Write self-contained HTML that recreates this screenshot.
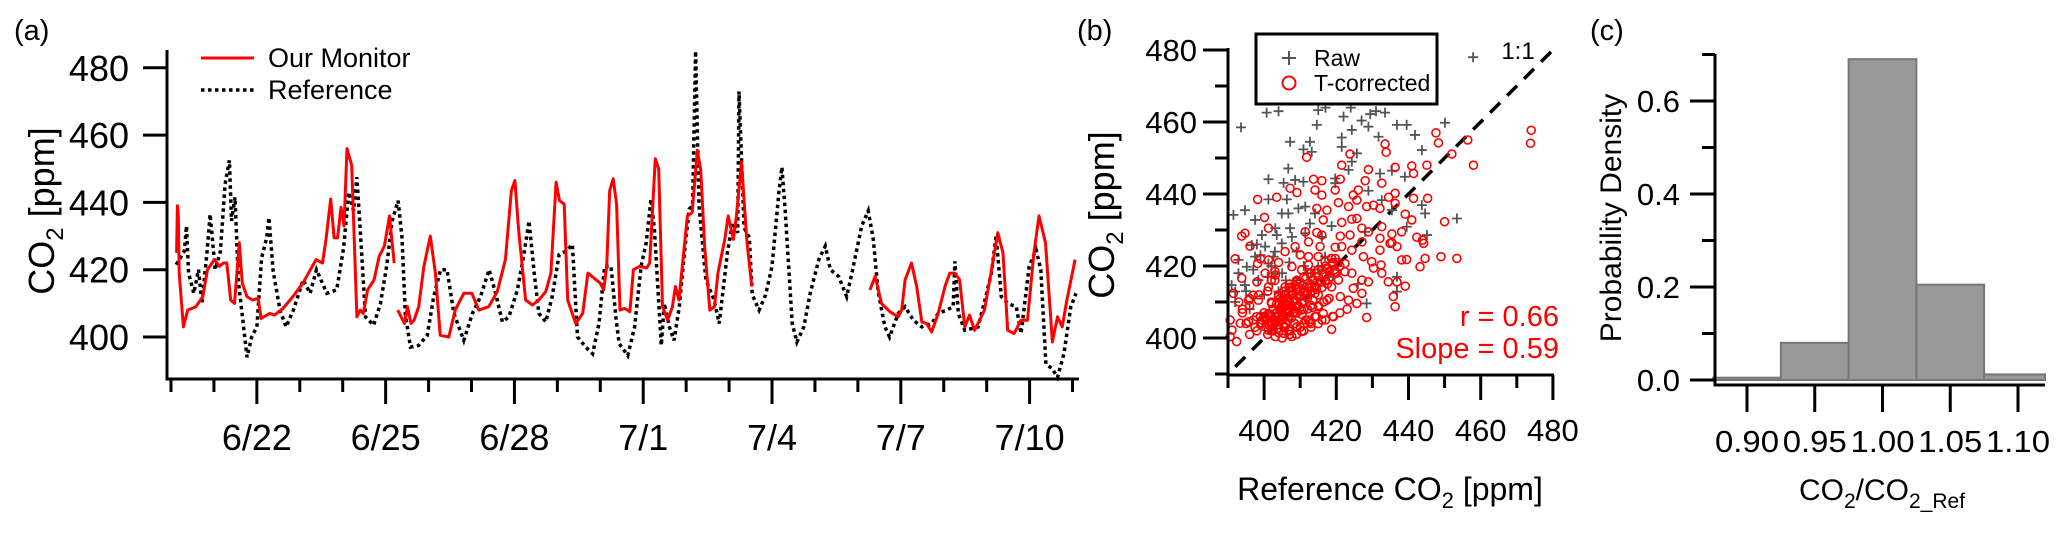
<!DOCTYPE html>
<html><head><meta charset="utf-8"><style>
html,body{margin:0;padding:0;background:#fff;}
svg{display:block;font-family:"Liberation Sans",Arial,sans-serif;}
</style></head><body>
<svg id="fig" width="2067" height="533" viewBox="0 0 2067 533" xmlns="http://www.w3.org/2000/svg">
<g id="pa"></g>
<g id="pb"></g>
<g id="pc"></g>
</svg>
<script>
// ---------- Panel (a) data ----------
const dayLabels = ["6/22","6/25","6/28","7/1","7/4","7/7","7/10"];
const dayLabelPos = [2,5,8,11,14,17,20];
const aYTicks = [400,420,440,460,480];
const ourDay = [0.13,0.15,0.17,0.19,0.29,0.39,0.58,0.74,0.85,1.01,1.13,1.22,1.3,1.39,1.48,1.59,1.66,1.77,1.9,2.03,2.1,2.3,2.41,2.61,2.84,3.07,3.38,3.53,3.61,3.72,3.8,3.88,3.96,4.03,4.1,4.21,4.33,4.41,4.48,4.58,4.73,4.85,4.97,5.09,5.2,null,5.28,5.44,5.51,5.59,5.66,5.77,5.89,6.04,6.16,6.27,6.47,6.62,6.82,7.01,7.17,7.4,7.6,7.79,7.93,8.01,8.1,8.26,8.42,8.57,8.73,8.85,8.97,9.05,9.16,9.24,9.32,9.43,9.59,9.71,10.0,10.08,10.15,10.22,10.3,10.38,10.46,10.57,10.69,10.77,10.92,11.08,11.15,11.28,11.36,11.45,11.57,11.68,11.75,11.83,11.91,12.03,12.14,12.26,12.34,12.43,12.55,12.66,12.74,12.9,12.98,13.1,13.17,13.29,13.41,13.53,null,16.28,16.4,16.55,16.75,16.94,17.02,17.1,17.25,17.37,17.49,17.6,17.72,17.87,18.03,18.14,18.26,18.37,18.49,18.6,18.72,18.95,19.14,19.26,19.38,19.49,19.64,19.8,19.95,20.1,20.22,20.37,20.53,20.65,20.76,20.87,21.06];
const ourVal = [425,439,436,419,403,408,409,412,420,423,421,422,422,411,410,428,416,412,411,411.5,405.5,407,406.5,408.5,412,416,423,422,429,441,429.5,429.5,438.5,433,456,451,406,408,407,414,417,424,427,436,422,null,408,404,409,404,405,409,421,430,419,400.5,400,408,413,413,408,409,413.5,423,443.5,446.5,431.5,411,409.5,411,413.5,419,446,440.5,439.5,411,408,404,407,419,416,414,421,443.5,447,439.5,408,408.5,407.5,420,421,420.5,422,453,450,409,405,409,415,411,421,436,437,455.5,449.5,427,408,409,419,429,436,429,436,452,429,415,null,414,418,410,407.5,406,408,417,422,415,404.5,404,401.5,407,415,419,419,417,403,406.5,402,408,422,431,425,402,401,405,405,425,436,428,398.5,406,403,411,423];
const refDay = [0.12,0.31,0.36,0.41,0.53,0.64,0.72,0.84,0.91,1.03,1.15,1.26,1.36,1.41,1.49,1.57,1.69,1.77,1.88,2.0,2.11,2.23,2.28,2.38,2.54,2.68,2.85,3.08,3.24,3.39,3.63,3.86,4.02,4.14,4.25,4.33,4.41,4.53,4.72,4.88,5.03,5.15,5.29,5.38,5.46,5.58,5.77,5.97,6.12,6.28,6.43,6.59,6.82,7.02,7.21,7.41,7.56,7.72,7.87,8.07,8.22,8.34,8.46,8.57,8.73,8.88,9.04,9.2,9.35,9.47,9.66,9.82,9.97,10.1,10.25,10.37,10.44,10.64,10.8,10.95,11.07,11.18,11.26,11.42,11.49,11.61,11.72,11.84,11.96,12.07,12.15,12.22,12.3,12.46,12.65,12.77,12.96,13.08,13.2,13.23,13.35,13.47,13.54,13.7,13.85,14.0,14.16,14.23,14.31,14.47,14.58,14.74,14.89,15.09,15.24,15.36,15.55,15.74,15.86,16.09,16.24,16.36,16.47,16.63,16.74,16.94,17.1,17.29,17.49,17.72,17.87,18.07,18.22,18.26,18.34,18.49,18.8,18.99,19.11,19.22,19.34,19.49,19.69,19.8,19.99,20.15,20.26,20.38,20.53,20.65,20.8,20.96,21.08];
const refVal = [421.5,425.5,433,419,413,420,410,425.5,436.5,420,425.5,445.5,452.5,434.5,441.5,416.5,403,394,400,403,423.5,429.5,435.5,419.5,408,403,408,417,413,420,413,414,426.5,443,437.5,447.5,431.5,406,403.5,410,421.5,434.5,440.5,429.5,406.5,397,397.5,400.5,412,420,420,407,399,407,412,420,413,404.5,406,414,424.5,434.5,419,407,404.5,412,424.5,425.5,427.5,400,397,395,404,421,421,405,398,394.5,403,421,428,441,432,397.5,410,403,399,409,425,438,439,485,439,417,411,404,425,434,431,473,432.5,429.5,412.5,408,412.5,421,443,450.5,437,404,398.5,403,413,423,427,420,418,412,419,433,437.5,429,413.5,403,400,407,409,405,403,404,407,408,409,422.5,407,402,403,412.5,419,430,412,410,409,401,421,426,420,392,390.5,388,395,409,413];

// ---------- Panel (b) data ----------
const bTicks = [400,420,440,460,480];
const rawX = [400.7,393.6,415,422,427,429.4,433.5,414.6,424.3,428.9,436.8,439.5,450.1,407.2,412.7,421.5,421.5,431.7,441.8,410.9,413.2,425.7,443.7,406.7,424.3,408.6,401.2,405.4,419.7,423.4,432.1,435.4,439,410.9,401.2,406.3,409.5,411.4,406.7,414.1,428.9,432.6,435.4,443.7,444.6,453.4,391.5,394.7,397.5,403.1,407.2,412.7,418.7,399.4,403.5,407.7,411.4,428,439.5,445.1,396.6,400.3,404.9,416,392.9,397.5,402.6,395.2,401.2,403.1,392.9,391,394.7,398.4,404,392,436.8,436.8,428.4,415,416.9,419.7,404.9,457.9,404,417,424,431,402,409,398,406,413,420,426,392,396,412,399,403,407,411,415,419,397,401,405,409,413,395,400,406,410];
const rawY = [462.6,458.5,463.3,461.5,460.4,462.2,462.6,459.2,457.8,458.7,459.2,459.2,459.8,454.5,454.5,455.7,453.1,455.9,456.4,452.4,451.7,451.3,452.2,447.1,449,443.9,444.1,443.1,444.3,446.7,445.7,446.5,444.8,443.4,438.5,438.5,436,436.5,434.6,434.6,440.9,438.3,435.5,436.9,434.6,433.2,434.2,435.5,432.8,430.5,430.5,431.8,431.1,428.6,428.6,428.1,429.1,429.5,430.9,428.6,425.8,425.4,426.3,428.1,421.7,422.6,422.6,419.8,420.7,418,418,414.7,414.7,416.1,412.9,412.9,417,412.9,409.6,419.8,422.6,443,434.6,478,463,464,464,463,420,424,426,416,418,420,415,410,408,412,423,424,421,420,419,417,419,417,418,416,415,413,412,414,411];
const corX = [411.8,423.8,433.5,433.8,447.6,448.3,456.4,452,458,474,473.8,421.5,428.9,436.3,440.9,445.1,441.4,413.7,416,421.1,428,432.6,407.2,414.1,409.1,419.7,426.1,416,424.7,425.7,398.2,403.5,436.3,434.5,441.4,445.3,414.6,417.4,420.6,423.4,428.4,430.3,432.1,436.3,439.1,400.1,401.2,416.4,421.5,424.3,425.7,427.1,428.9,432.6,435.4,438.1,440.9,450,393.8,394.7,396.1,411.4,412.3,414.6,416,421.1,423.8,427.1,432.1,435.4,442.3,443.9,444.2,405.8,408.6,410,415.5,419.7,421.5,424.3,427.5,429.8,432.1,432.4,434.9,436.8,438.1,439.5,444.6,449,453.4,443.2,398.2,401.2,403.1,407.7,412.3,416.9,419.7,422.4,424.3,430.3,432.6,434.4,436.8,439.1,428.9,427.1,424.7,391.5,393.8,398,400.3,395.7,397,405.8,409,413.2,416,418.7,421.1,423.4,425.7,427.1,435.8,436.3,428.4,419.2,418.7,414.1,416.4,410.4,412.3,409.1,406.7,404.9,401.2,398.4,397.9,395.7,393.4,390.6,391.1,392.4,390.6,401.2,403.1,405.4,407.7,410.4,412.7,415.1,417.4,420.6,422.4,412.7,410.4,407.7,404,402.1,400.3,399.4,404.4,405.8,407.7,410,411.4,414.1,416.9,419.7,418.7,415,412.3,401.2,403.1,404,402.1,406.7,408.6,409.5,405.8,404.4,405.4,406.7,408.6,403,405,407,409,411,413,402,404,406,408,410,412,414,403,405,407,409,411,400,402,404,406,408,
 399.5,401,402.5,404,405.5,407,408.5,410,411.5,413,414.5,416,
 400,401.5,403,404.5,406,407.5,409,410.5,412,413.5,415,416.5,418,
 398.5,400,401.5,403,404.5,406,407.5,409,410.5,412,413.5,415,
 401,402.5,404,405.5,407,408.5,410,411.5,413,414.5,416,417.5,
 402,403.5,405,406.5,408,409.5,411,412.5,414,415.5,417,418.5,420,
 403,404.5,406,407.5,409,410.5,412,413.5,415,416.5,418,419.5,421,
 404,405.5,407,408.5,410,411.5,413,414.5,416,417.5,419,420.5,
 399,400.5,402,403.5,405,406.5,408,409.5,411,
 396,397.5,399,400.5,402,403.5,405,406.5,
 407,409,411,413,415,417,419,421,423,
 405,407,409,411,413,415,417,419,
 392,394,396,393,395,397,399,394,396,398];
const corY = [450.2,451.1,453.9,451.6,457,454.2,455,451.1,448,457.7,454.1,448,446.8,447.4,447.8,448,445.7,444.1,443.7,444.1,443.7,443,441.6,441.1,440.4,441.1,441.1,439.7,439.7,438.3,438.5,439.1,440.2,439.1,438.8,438.8,436,435.5,437.6,436.5,436.5,436.9,436,437.4,434.4,433.5,430.5,432.8,432.1,433,433.2,430.5,429.5,430.9,428.9,429.5,432.8,432.3,428.3,429.1,425.5,429.5,426.7,429.3,428.6,428.3,428.6,426.7,427.7,426.5,428,427.2,426.3,424,425.4,423.1,425.4,425.2,425.4,424.4,422.6,421.2,424.4,420.3,426.3,425.4,421.7,421.8,422.1,422.6,422.1,419.8,420.7,421.7,417.5,419.8,420.3,421.2,422.1,420.7,418,419.4,418,415.6,415.6,414.4,415.6,416.1,413.8,412.4,416.6,415.6,418,410.5,411.9,414.2,415.6,414.2,415.6,414.2,411.5,410.5,409.6,412.4,411.5,408.7,405.7,405.9,402.4,405.9,406.8,407.8,405,403.1,405.9,408.7,406.8,410.5,405.9,404.5,404.1,405,402.2,399,400.4,402.2,400.4,401.3,400.4,401.8,404.5,408.7,410.5,416.1,418.4,418,418.9,414.2,411.5,409.6,405.9,404.1,405,403.1,408.7,411.5,412.9,412.4,418,418.4,422.1,422.6,422.6,414.2,406.8,402.7,404.5,402.2,408.7,414.2,409.6,408.2,411,412.4,410.5,404,405,406,407,408,409,410,412,411,410,413,412,414,416,400,401,403,404,406,402,406,404,407,405,
 401,402,401.5,403,402,404,403,405,404,406,405,407,
 403.5,404.5,405,406,405.5,407,406.5,408,408.5,409,410,411,412,
 405.5,406.5,406,407.5,408,409,408.5,410,411,410.5,412,413,
 408,409,408.5,410,410.5,411.5,412,413,413.5,414,415,416,
 409.5,410.5,411,412,411.5,413,414,414.5,415.5,416,417,418,418.5,
 411,412,413,413.5,414.5,415,416,417,417.5,418.5,419,420,421,
 413,414,414.5,415.5,416.5,417,418,419,419.5,420.5,421,422,
 403,404,405,406,407,408,409,410,411,
 403,404,405,406,407,408,409,410,
 401,402,403,404,405,406,407,408,409,
 415,416,417,418,419,420,421,422,
 408,409,410,404,405,406,407,401,402,403];

// ---------- Panel (c) data ----------
const binEdges = [0.875,0.925,0.975,1.025,1.075,1.125];
const densities = [0.005,0.08,0.69,0.205,0.012];
const cXTicks = ["0.90","0.95","1.00","1.05","1.10"];
const cYTicks = ["0.0","0.2","0.4","0.6"];

const NS = "http://www.w3.org/2000/svg";
function mk(tag, attrs, parent){ const e=document.createElementNS(NS,tag); for(const k in attrs) e.setAttribute(k,attrs[k]); parent.appendChild(e); return e; }
function txt(str, attrs, parent){ const t=mk("text",attrs,parent); t.textContent=str; return t; }

// ===== Panel a =====
const pa = document.getElementById("pa");
const ax = d => 171 + d*42.93;
const ay = v => 337 - (v-400)*3.365;
function linePath(xs, ys, fx, fy){ let d="", pen=false; for(let i=0;i<xs.length;i++){ if(xs[i]===null||ys[i]===null){pen=false;continue;} d += (pen?"L":"M")+fx(xs[i]).toFixed(1)+","+fy(ys[i]).toFixed(1); pen=true;} return d; }
let el;
el = mk("path",{d:linePath(refDay,refVal,ax,ay),fill:"none",stroke:"#000","stroke-width":3.5,"stroke-dasharray":"3.5,3.5"},pa);


el = mk("path",{d:linePath(ourDay,ourVal,ax,ay),fill:"none",stroke:"#ff0000","stroke-width":3,"stroke-linejoin":"round"},pa);


el = mk("path",{d:"M167,50V379H1079",fill:"none",stroke:"#000","stroke-width":3},pa);


aYTicks.forEach(v=>{
  el = mk("line",{x1:143,x2:167,y1:ay(v),y2:ay(v),stroke:"#000","stroke-width":3},pa);
  
  
  el = txt(String(v),{x:129,y:ay(v)+13,"text-anchor":"end","font-size":36},pa);
  
  
});
for(let d=0; d<=21; d++){
  const major = dayLabelPos.indexOf(d)>=0;
  el = mk("line",{x1:ax(d),x2:ax(d),y1:379,y2:major?404:392,stroke:"#000","stroke-width":3},pa);
  
  
}
dayLabels.forEach((s,i)=>{
  el = txt(s,{x:ax(dayLabelPos[i]),y:450,"text-anchor":"middle","font-size":36},pa);
  
  
});
</script>
<svg style="position:absolute;left:0;top:0" width="2067" height="533" viewBox="0 0 2067 533" xmlns="http://www.w3.org/2000/svg" font-family="Liberation Sans, Arial, sans-serif">
  <text x="14" y="40" font-size="29">(a)</text>
  <text transform="translate(54,211) rotate(-90)" text-anchor="middle" font-size="36">CO<tspan font-size="24" dy="9">2</tspan><tspan dy="-9"> [ppm]</tspan></text>
  <g>
    <line x1="201" y1="58" x2="254" y2="58" stroke="#ff0000" stroke-width="3"/>
    <text x="268" y="67" font-size="27">Our Monitor</text>
    <line x1="201" y1="90" x2="254" y2="90" stroke="#000" stroke-width="3.5" stroke-dasharray="3.5,3.5"/>
    <text x="268" y="99" font-size="27">Reference</text>
  </g>
  <text x="1077" y="40" font-size="29">(b)</text>
  <text transform="translate(1114,215) rotate(-90)" text-anchor="middle" font-size="36">CO<tspan font-size="24" dy="9">2</tspan><tspan dy="-9"> [ppm]</tspan></text>
  <text x="1390" y="500" text-anchor="middle" font-size="32">Reference CO<tspan font-size="22" dy="8">2</tspan><tspan dy="-8"> [ppm]</tspan></text>
  <text x="1590" y="40" font-size="29">(c)</text>
  <text transform="translate(1621,218) rotate(-90)" text-anchor="middle" font-size="30">Probability Density</text>
  <text x="1882" y="500" text-anchor="middle" font-size="30">CO<tspan font-size="21" dy="8">2</tspan><tspan dy="-8">/CO</tspan><tspan font-size="21" dy="8">2_Ref</tspan></text>
</svg>
<script>
// ===== Panel b =====
const pb = document.getElementById("pb");
const bx = v => 1228 + (v-390)*3.61;
const by = v => 338 - (v-400)*3.6;
el = mk("line",{x1:bx(392),y1:by(392),x2:bx(480),y2:by(480),stroke:"#000","stroke-width":3.5,"stroke-dasharray":"14,10"},pb);


rawX.forEach((x,i)=>{
  const cx=bx(x), cy=by(rawY[i]);
  el = mk("path",{d:`M${cx-5},${cy}H${cx+5}M${cx},${cy-5}V${cy+5}`,stroke:"#555","stroke-width":1.8,fill:"none"},pb);
  
  
});
corX.forEach((x,i)=>{
  el = mk("circle",{cx:bx(x),cy:by(corY[i]),r:4,fill:"none",stroke:"#ff0000","stroke-width":1.6},pb);
  
  
});
el = mk("path",{d:"M1228,48V375H1554",fill:"none",stroke:"#000","stroke-width":3},pb);


for(let v=390; v<=480; v+=10){
  const major = v%20===0;
  el = mk("line",{x1:major?1203:1215,x2:1228,y1:by(v),y2:by(v),stroke:"#000","stroke-width":3},pb);
  
  
  el = mk("line",{x1:bx(v),x2:bx(v),y1:375,y2:major?400:388,stroke:"#000","stroke-width":3},pb);
  
  
}
bTicks.forEach(v=>{
  el = txt(String(v),{x:1197,y:by(v)+11,"text-anchor":"end","font-size":31},pb);
  
  
  el = txt(String(v),{x:bx(v),y:441,"text-anchor":"middle","font-size":31},pb);
  
  
});
el = mk("rect",{x:1256,y:34,width:181,height:70,fill:"#fff",stroke:"#000","stroke-width":3},pb);


el = mk("path",{d:"M1282,58H1296M1289,51V65",stroke:"#555","stroke-width":2,fill:"none"},pb);


el = txt("Raw",{x:1314,y:66,"font-size":23},pb);


el = mk("circle",{cx:1289,cy:83,r:6.5,fill:"none",stroke:"#ff0000","stroke-width":2},pb);


el = txt("T-corrected",{x:1314,y:91,"font-size":23},pb);


el = txt("1:1",{x:1518,y:59,"text-anchor":"middle","font-size":24},pb);


el = txt("r = 0.66",{x:1559,y:326,"text-anchor":"end","font-size":29,fill:"#ff0000"},pb);


el = txt("Slope = 0.59",{x:1559,y:358,"text-anchor":"end","font-size":29,fill:"#ff0000"},pb);



// ===== Panel c =====
const pc = document.getElementById("pc");
const cx = v => 1747 + (v-0.90)*1355;
const cy = v => 380 - v*465;
densities.forEach((d,i)=>{
  const x0=cx(binEdges[i]), x1=Math.min(cx(binEdges[i+1]),2045);
  el = mk("rect",{x:x0,y:cy(d),width:x1-x0,height:380-cy(d),fill:"#999999",stroke:"#777777","stroke-width":2},pc);
  
  
});
el = mk("path",{d:"M1715,54V385H2045",fill:"none",stroke:"#000","stroke-width":3},pc);


for(let k=0;k<=7;k++){
  const v=k*0.1, major=k%2===0;
  el = mk("line",{x1:major?1690:1702,x2:1715,y1:cy(v),y2:cy(v),stroke:"#000","stroke-width":3},pc);
  
  
}
cYTicks.forEach(s=>{
  el = txt(s,{x:1680,y:cy(parseFloat(s))+11,"text-anchor":"end","font-size":31},pc);
  
  
});
cXTicks.forEach(s=>{
  const v=parseFloat(s);
  el = mk("line",{x1:cx(v),x2:cx(v),y1:385,y2:412,stroke:"#000","stroke-width":3},pc);
  
  
  el = txt(s,{x:cx(v),y:452,"text-anchor":"middle","font-size":31,"textLength":64,"lengthAdjust":"spacingAndGlyphs"},pc);
  
  
});
</script>
</body></html>
